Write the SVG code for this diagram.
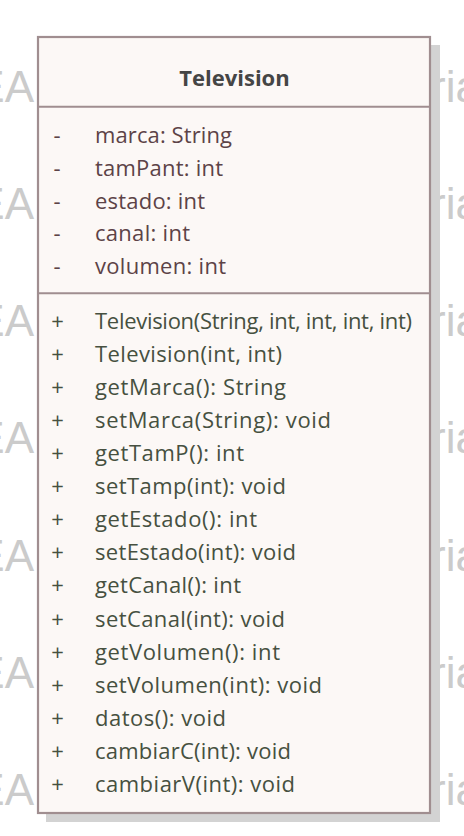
<svg xmlns="http://www.w3.org/2000/svg" width="464" height="836" viewBox="0 0 464 836">
<style>
.wm{font-family:"Liberation Sans",Arial,sans-serif;font-size:44px;fill:#cbcbcb}
.t{font-family:"Open Sans","Noto Sans",sans-serif;font-size:22px}
.title{font-family:"Open Sans","Noto Sans",sans-serif;font-size:22px;font-weight:bold;fill:#454545}
.attr{fill:#5c4347}
.meth{fill:#465040}
.border{fill:#fcf8f6;stroke:#a08e90;stroke-width:2.2}
.sep{stroke:#a08e90;stroke-width:2}
.shadow{fill:#d3d3d3}
</style>
<rect width="464" height="836" fill="#ffffff"/>
<g id="watermark">
<text class="wm" x="34" y="101.7" text-anchor="end">EA</text>
<text class="wm" x="34" y="218.9" text-anchor="end">EA</text>
<text class="wm" x="34" y="336.1" text-anchor="end">EA</text>
<text class="wm" x="34" y="453.3" text-anchor="end">EA</text>
<text class="wm" x="34" y="570.5" text-anchor="end">EA</text>
<text class="wm" x="34" y="687.7" text-anchor="end">EA</text>
<text class="wm" x="34" y="804.9" text-anchor="end">EA</text>
<text class="wm" x="431" y="101.7">ria</text>
<text class="wm" x="431" y="218.9">ria</text>
<text class="wm" x="431" y="336.1">ria</text>
<text class="wm" x="431" y="453.3">ria</text>
<text class="wm" x="431" y="570.5">ria</text>
<text class="wm" x="431" y="687.7">ria</text>
<text class="wm" x="431" y="804.9">ria</text>
</g>
<g id="connectors"></g>
<g id="Television">
<rect class="shadow" x="46" y="45" width="394" height="777"/>
<rect class="border" x="38" y="37" width="392" height="776"/>
<line class="sep" x1="38" y1="106.7" x2="430" y2="106.7"/>
<line class="sep" x1="38" y1="293.3" x2="430" y2="293.3"/>
<text class="title" x="234.5" y="85.7" text-anchor="middle">Television</text>
<g class="t attr">
<text x="57" y="143.3" text-anchor="middle">-</text>
<text x="57" y="176" text-anchor="middle">-</text>
<text x="57" y="208.7" text-anchor="middle">-</text>
<text x="57" y="241.4" text-anchor="middle">-</text>
<text x="57" y="274.1" text-anchor="middle">-</text>
<text x="95" y="143.3" textLength="137" lengthAdjust="spacing">marca: String</text>
<text x="95" y="176" textLength="128" lengthAdjust="spacing">tamPant: int</text>
<text x="95" y="208.7" textLength="110" lengthAdjust="spacing">estado: int</text>
<text x="95" y="241.4" textLength="95" lengthAdjust="spacing">canal: int</text>
<text x="95" y="274.1" textLength="131" lengthAdjust="spacing">volumen: int</text>
</g>
<g class="t meth">
<text x="57.5" y="328.8" text-anchor="middle">+</text>
<text x="57.5" y="361.9" text-anchor="middle">+</text>
<text x="57.5" y="395" text-anchor="middle">+</text>
<text x="57.5" y="428" text-anchor="middle">+</text>
<text x="57.5" y="461.1" text-anchor="middle">+</text>
<text x="57.5" y="494.2" text-anchor="middle">+</text>
<text x="57.5" y="527.3" text-anchor="middle">+</text>
<text x="57.5" y="560.4" text-anchor="middle">+</text>
<text x="57.5" y="593.4" text-anchor="middle">+</text>
<text x="57.5" y="626.5" text-anchor="middle">+</text>
<text x="57.5" y="659.6" text-anchor="middle">+</text>
<text x="57.5" y="692.7" text-anchor="middle">+</text>
<text x="57.5" y="725.8" text-anchor="middle">+</text>
<text x="57.5" y="758.8" text-anchor="middle">+</text>
<text x="57.5" y="791.9" text-anchor="middle">+</text>
<text x="95" y="328.8" textLength="317" lengthAdjust="spacing">Television(String, int, int, int, int)</text>
<text x="95" y="361.9" textLength="187" lengthAdjust="spacing">Television(int, int)</text>
<text x="95" y="395" textLength="191" lengthAdjust="spacing">getMarca(): String</text>
<text x="95" y="428" textLength="236" lengthAdjust="spacing">setMarca(String): void</text>
<text x="95" y="461.1" textLength="149" lengthAdjust="spacing">getTamP(): int</text>
<text x="95" y="494.2" textLength="191" lengthAdjust="spacing">setTamp(int): void</text>
<text x="95" y="527.3" textLength="162" lengthAdjust="spacing">getEstado(): int</text>
<text x="95" y="560.4" textLength="201" lengthAdjust="spacing">setEstado(int): void</text>
<text x="95" y="593.4" textLength="146" lengthAdjust="spacing">getCanal(): int</text>
<text x="95" y="626.5" textLength="190" lengthAdjust="spacing">setCanal(int): void</text>
<text x="95" y="659.6" textLength="185" lengthAdjust="spacing">getVolumen(): int</text>
<text x="95" y="692.7" textLength="227" lengthAdjust="spacing">setVolumen(int): void</text>
<text x="95" y="725.8" textLength="131" lengthAdjust="spacing">datos(): void</text>
<text x="95" y="758.8" textLength="196" lengthAdjust="spacing">cambiarC(int): void</text>
<text x="95" y="791.9" textLength="200" lengthAdjust="spacing">cambiarV(int): void</text>
</g>
</g>
</svg>
